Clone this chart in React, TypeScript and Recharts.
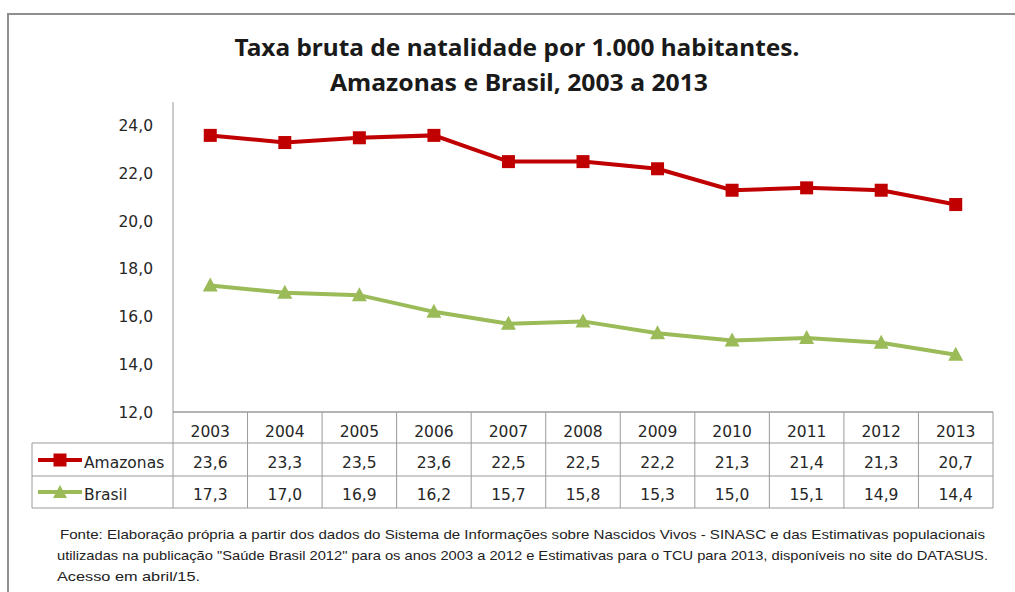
import { LineChart, Line, XAxis, YAxis } from 'recharts'

// Taxa bruta de natalidade (por 1.000 hab.), Amazonas x Brasil
const years = ['2003', '2004', '2005', '2006', '2007', '2008', '2009', '2010', '2011', '2012', '2013']
const amazonas = [23.6, 23.3, 23.5, 23.6, 22.5, 22.5, 22.2, 21.3, 21.4, 21.3, 20.7]
const brasil = [17.3, 17.0, 16.9, 16.2, 15.7, 15.8, 15.3, 15.0, 15.1, 14.9, 14.4]
const yTicks = [12, 14, 16, 18, 20, 22, 24]

const titleLines = ['Taxa bruta de natalidade por 1.000 habitantes.', 'Amazonas e Brasil, 2003 a 2013']
const sourceLines = [
  'Fonte: Elaboração própria a partir dos dados do  Sistema de Informações sobre Nascidos Vivos - SINASC e das Estimativas populacionais',
  'utilizadas na publicação "Saúde Brasil 2012"  para os anos 2003 a 2012 e Estimativas para o TCU para 2013, disponíveis no site do DATASUS.',
  'Acesso em abril/15.',
]

const RED = '#c00000'
const GREEN = '#9bbb59'
const GRID = '#9a9a9a'
const TEXT = '#262626'
const FONT = '"DejaVu Sans", Verdana, sans-serif'
const TITLE_FONT = '"Noto Sans", "Open Sans", sans-serif'

const data = years.map((year, i) => ({ year, amazonas: amazonas[i], brasil: brasil[i] }))

const fmt = (v: number) => v.toFixed(1).replace('.', ',')

function SquareDot({ cx, cy }: any) {
  if (cx == null || cy == null) return null
  return <rect x={cx - 6.5} y={cy - 6.5} width={13} height={13} fill={RED} />
}

function TriangleDot({ cx, cy }: any) {
  if (cx == null || cy == null) return null
  return <polygon points={`${cx},${cy - 8} ${cx + 7.5},${cy + 6} ${cx - 7.5},${cy + 6}`} fill={GREEN} />
}

// ── data table under the x axis (one column per tick) ────────────────────────
const ROWS = [0, 31, 64, 96]

function TableTick({ x, y, payload }: any) {
  const i = payload.index
  const half = payload.offset || 37.3
  const l = x - half
  const r = x + half
  const txt = { fontFamily: FONT, fontSize: 15.5, fill: TEXT, textAnchor: 'middle' as const }
  return (
    <g>
      {ROWS.map((dy) => (
        <line key={dy} x1={l} x2={r} y1={y + dy} y2={y + dy} stroke={GRID} />
      ))}
      <line x1={r} x2={r} y1={y} y2={y + ROWS[3]} stroke={GRID} />
      {i === 0 && <line x1={l} x2={l} y1={y} y2={y + ROWS[3]} stroke={GRID} />}
      <text x={x} y={y + 25} {...txt}>{payload.value}</text>
      <text x={x} y={y + 56} {...txt}>{fmt(amazonas[i])}</text>
      <text x={x} y={y + 88} {...txt}>{fmt(brasil[i])}</text>
      {i === 0 && (
        <g>
          <line x1={l - 141} x2={l} y1={y + ROWS[1]} y2={y + ROWS[1]} stroke={GRID} />
          <line x1={l - 141} x2={l} y1={y + ROWS[2]} y2={y + ROWS[2]} stroke={GRID} />
          <line x1={l - 141} x2={l} y1={y + ROWS[3]} y2={y + ROWS[3]} stroke={GRID} />
          <line x1={l - 141} x2={l - 141} y1={y + ROWS[1]} y2={y + ROWS[3]} stroke={GRID} />
          <line x1={l - 135} x2={l - 91} y1={y + 48} y2={y + 48} stroke={RED} strokeWidth={4} />
          <rect x={l - 119.5} y={y + 41.5} width={13} height={13} fill={RED} />
          <text x={l - 89} y={y + 56} fontFamily={FONT} fontSize={15.5} fill={TEXT}>Amazonas</text>
          <line x1={l - 135} x2={l - 91} y1={y + 80} y2={y + 80} stroke={GREEN} strokeWidth={4} />
          <polygon points={`${l - 113},${y + 73} ${l - 106},${y + 86} ${l - 120},${y + 86}`} fill={GREEN} />
          <text x={l - 89} y={y + 88} fontFamily={FONT} fontSize={15.5} fill={TEXT}>Brasil</text>
        </g>
      )}
    </g>
  )
}

export default function App() {
  return (
    <div style={{ position: 'absolute', left: 0, top: 0, width: 1015, height: 592, overflow: 'hidden', background: '#fff' }}>
      <div
        style={{
          position: 'absolute', left: 7, top: 13, width: 1020, height: 600,
          border: '2px solid #8f8f8f', boxSizing: 'border-box',
        }}
      />
      <svg width={1015} height={592} style={{ position: 'absolute', left: 0, top: 0 }}>
        <text x={517} y={56} textAnchor="middle" fontFamily={TITLE_FONT} fontWeight={700} fontSize={24}
          fill="#1a1a1a" textLength={565} lengthAdjust="spacingAndGlyphs">{titleLines[0]}</text>
        <text x={519} y={91} textAnchor="middle" fontFamily={TITLE_FONT} fontWeight={700} fontSize={24}
          fill="#1a1a1a" textLength={378} lengthAdjust="spacingAndGlyphs">{titleLines[1]}</text>
        <text x={60} y={539} fontFamily='"Liberation Sans", Arial, sans-serif' fontSize={13} fill="#222"
          textLength={925} lengthAdjust="spacingAndGlyphs">{sourceLines[0]}</text>
        <text x={57} y={560} fontFamily='"Liberation Sans", Arial, sans-serif' fontSize={13} fill="#222"
          textLength={931} lengthAdjust="spacingAndGlyphs">{sourceLines[1]}</text>
        <text x={57} y={581} fontFamily='"Liberation Sans", Arial, sans-serif' fontSize={13} fill="#222"
          textLength={143} lengthAdjust="spacingAndGlyphs">{sourceLines[2]}</text>
      </svg>
      <div style={{ position: 'absolute', left: 0, top: 0 }}>
        <LineChart width={1015} height={592} data={data} margin={{ top: 102, right: 22, bottom: 84, left: 113 }}>
          <XAxis
            dataKey="year"
            scale="band"
            height={96}
            interval={0}
            axisLine={{ stroke: GRID }}
            tickLine={false}
            tickSize={0}
            tickMargin={0}
            tick={(p: any) => <TableTick {...p} />}
          />
          <YAxis
            width={60}
            domain={[12, 25]}
            ticks={yTicks}
            tickFormatter={fmt}
            axisLine={{ stroke: GRID }}
            tickLine={false}
            tickSize={0}
            tickMargin={20}
            tick={{ fontFamily: FONT, fontSize: 15.5, fill: TEXT }}
          />
          <Line
            dataKey="amazonas"
            stroke={RED}
            strokeWidth={4}
            dot={(p: any) => <SquareDot key={`a${p.index}`} {...p} />}
            activeDot={false}
            isAnimationActive={false}
          />
          <Line
            dataKey="brasil"
            stroke={GREEN}
            strokeWidth={4}
            dot={(p: any) => <TriangleDot key={`b${p.index}`} {...p} />}
            activeDot={false}
            isAnimationActive={false}
          />
        </LineChart>
      </div>
    </div>
  )
}
